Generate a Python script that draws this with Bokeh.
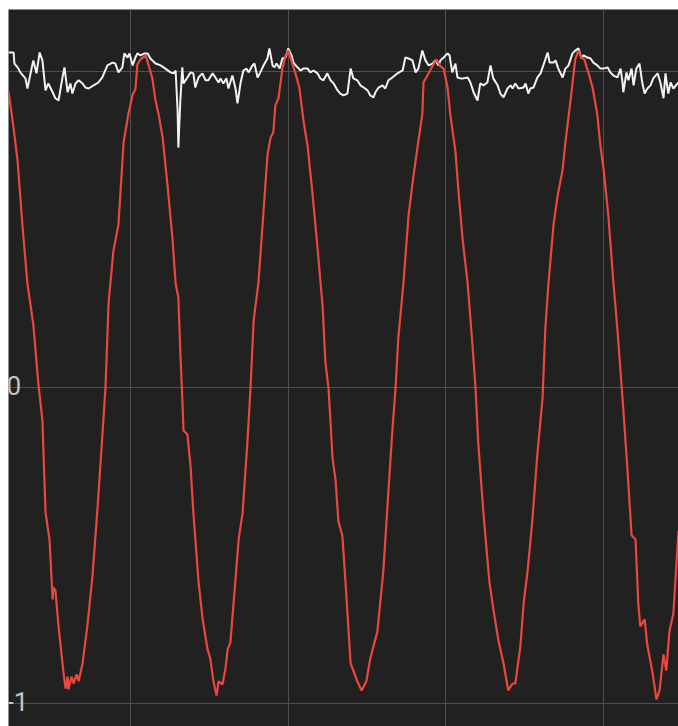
from bokeh.plotting import figure
from bokeh.models import Range1d, FixedTicker
from bokeh.layouts import column
from bokeh.core.properties import value
from bokeh.embed import file_html
from bokeh.resources import INLINE

# sample index (x) and values
red_x = [
    0.0, 1.3, 2.3, 3.6, 4.8, 6.3, 7.4, 7.6, 8.6, 9.4,
    10.4, 11.2, 11.4, 11.9, 12.7, 14.0, 14.5, 15.0, 15.2, 16.0,
    16.5, 17.3, 17.8, 18.8, 20.0, 21.3, 22.6, 23.3, 24.6, 25.4,
    26.6, 27.9, 29.2, 30.4, 31.5, 32.2, 32.7, 33.5, 34.8, 35.5,
    36.5, 37.3, 38.1, 39.1, 40.3, 41.6, 42.4, 43.1, 43.6, 44.1,
    44.4, 45.4, 46.2, 46.9, 48.2, 49.2, 50.5, 51.2, 52.0, 52.8,
    53.3, 54.3, 55.1, 55.6, 56.3, 57.1, 58.4, 59.4, 60.6, 61.4,
    62.2, 63.4, 64.4, 65.7, 66.5, 67.2, 67.7, 68.5, 69.5, 70.3,
    71.0, 72.1, 72.8, 73.8, 74.8, 75.9, 77.1, 78.4, 79.7, 80.4,
    81.2, 81.7, 82.2, 83.0, 83.7, 84.7, 85.5, 86.8, 87.5, 88.5,
    89.6, 90.8, 91.8, 93.6, 95.1, 96.2, 97.4, 98.2, 98.9, 100.2,
    101.5, 102.5, 103.8, 105.0, 105.3, 106.6, 107.8, 108.6, 109.6, 110.4,
    111.4, 112.1, 113.4, 114.2, 115.2, 116.5, 117.7, 118.5, 119.2, 120.5,
    122.0, 123.0, 124.3, 125.6, 126.8, 127.9, 128.6, 129.9, 130.7, 131.7,
    132.9, 134.2, 135.5, 136.2, 137.0, 138.3, 139.3, 140.6, 141.3, 142.6,
    143.8, 144.6, 145.4, 146.1, 147.2, 148.2, 149.4, 150.2, 151.0, 152.2,
    153.5, 154.5, 155.8, 157.0, 158.1, 159.1, 159.8, 160.3, 161.4, 162.1,
    163.4, 164.4, 165.2, 166.2, 166.9, 167.7, 168.7, 170.0,
]
red_y = [
    0.937, 0.820, 0.718, 0.503, 0.329, 0.199, 0.038, 0.009, -0.104, -0.396,
    -0.481, -0.671, -0.633, -0.642, -0.756, -0.908, -0.953, -0.915, -0.956, -0.915,
    -0.937, -0.908, -0.930, -0.873, -0.756, -0.598, -0.380, -0.250, -0.003, 0.269,
    0.430, 0.516, 0.775, 0.864, 0.927, 0.943, 1.022, 1.038, 1.051, 1.022,
    0.978, 0.908, 0.864, 0.791, 0.646, 0.472, 0.329, 0.285, 0.111, -0.035,
    -0.136, -0.149, -0.250, -0.396, -0.611, -0.728, -0.829, -0.858, -0.930, -0.975,
    -0.930, -0.940, -0.886, -0.829, -0.807, -0.684, -0.481, -0.396, -0.177, -0.003,
    0.212, 0.329, 0.503, 0.734, 0.791, 0.807, 0.892, 0.915, 1.009, 1.051,
    1.066, 1.022, 0.994, 0.949, 0.848, 0.763, 0.617, 0.443, 0.256, 0.082,
    -0.003, -0.108, -0.222, -0.294, -0.424, -0.468, -0.614, -0.873, -0.896, -0.930,
    -0.959, -0.930, -0.858, -0.772, -0.582, -0.367, -0.136, -0.003, 0.155, 0.329,
    0.544, 0.646, 0.763, 0.864, 0.965, 0.994, 1.022, 1.038, 1.016, 1.009,
    0.949, 0.864, 0.747, 0.617, 0.472, 0.329, 0.139, -0.003, -0.177, -0.396,
    -0.614, -0.699, -0.801, -0.873, -0.959, -0.937, -0.937, -0.816, -0.684, -0.582,
    -0.424, -0.209, -0.035, 0.184, 0.329, 0.516, 0.604, 0.690, 0.775, 0.908,
    1.038, 1.066, 1.044, 1.038, 0.994, 0.949, 0.864, 0.763, 0.690, 0.544,
    0.329, 0.184, -0.035, -0.250, -0.468, -0.481, -0.684, -0.756, -0.734, -0.816,
    -0.902, -0.987, -0.959, -0.845, -0.896, -0.772, -0.715, -0.453,
]

white_x = [
    0.0, 1.3, 1.5, 2.3, 3.0, 4.3, 4.8, 5.6, 6.3, 7.1,
    7.9, 8.6, 9.4, 10.1, 11.2, 11.9, 12.7, 13.7, 14.2, 15.0,
    15.7, 16.2, 17.0, 17.8, 18.8, 19.5, 20.3, 21.6, 22.8, 23.8,
    25.1, 26.4, 27.1, 27.9, 28.9, 29.4, 30.2, 30.7, 31.5, 32.2,
    32.7, 33.5, 34.5, 35.3, 36.0, 37.3, 38.6, 39.8, 41.1, 41.9,
    42.4, 42.9, 43.1, 43.6, 44.1, 44.4, 45.4, 46.2, 46.9, 47.4,
    48.2, 49.2, 50.0, 50.7, 51.8, 52.5, 53.3,
    53.8, 54.5, 55.3, 55.8, 56.8, 57.6, 58.1, 58.9, 59.6, 60.4,
    60.9, 61.9, 62.4, 63.2, 63.9, 64.7, 65.7, 66.2, 67.0, 67.5,
    68.0, 68.8, 69.5, 70.3, 71.0, 71.8, 72.3, 73.3, 74.1, 74.8,
    75.9, 76.6, 77.4, 78.4, 79.1, 79.9, 80.9, 81.7, 82.5, 83.5,
    84.2, 85.0, 86.0, 86.8, 87.5, 88.5, 89.3, 90.1, 91.1, 91.8,
    92.6, 93.1, 93.9, 94.9, 95.6, 96.4, 97.4, 98.7, 100.0, 100.7,
    101.5, 102.5, 103.3, 104.0, 105.0, 105.8, 106.6, 107.6, 108.3, 109.1,
    109.6, 110.4, 111.4, 111.9, 112.6, 113.4, 113.9, 114.7, 115.4, 116.5,
    117.2, 118.0, 119.0, 119.7, 120.5, 121.5, 122.3, 123.0, 124.1, 124.8,
    125.6, 126.6, 127.4, 127.9, 128.6, 129.4, 130.7, 131.2, 131.9, 132.4,
    133.2, 134.2, 135.0, 135.7, 136.8, 137.3, 138.3, 138.8, 139.5, 140.6,
    141.3, 142.1, 143.1, 143.8, 144.6, 145.4, 145.9, 146.9, 147.7, 148.4,
    149.4, 150.2, 151.0, 152.0, 152.7, 153.5, 154.5, 155.3, 155.8, 156.0,
    156.8, 157.3, 158.1, 158.6, 159.3, 160.1, 160.8, 161.4, 162.1, 162.9,
    163.6, 164.7, 165.4, 166.2, 166.7, 167.4, 168.0, 168.7, 170.0,
]
white_y = [
    1.060, 1.060, 1.025, 1.013, 0.997, 0.978, 0.946, 0.994, 1.035, 0.994,
    1.060, 1.035, 0.940, 0.962, 0.934, 0.915, 0.908, 0.981, 1.013, 0.934,
    0.962, 0.930, 0.962, 0.972, 0.962, 0.949, 0.946, 0.956, 0.965, 0.981,
    1.019, 1.028, 1.025, 0.997, 1.013, 1.057, 1.044, 1.057, 1.019, 1.044,
    1.057, 1.051, 1.057, 1.057, 1.041, 1.025, 1.019, 1.009, 0.997, 0.994,
    1.003, 0.877, 0.759, 0.908, 1.013, 0.962, 0.981, 0.997, 0.994, 0.949,
    0.981, 0.994, 0.972, 0.972, 0.994, 0.981, 0.965,
    0.978, 0.962, 0.978, 0.946, 0.987, 0.946, 0.899, 0.965, 1.003, 1.009,
    0.997, 1.019, 1.025, 0.981, 0.997, 1.019, 1.041, 1.073, 1.019, 1.013,
    1.025, 1.009, 1.041, 1.044, 1.073, 1.051, 1.028, 1.013, 1.003, 1.009,
    1.009, 0.997, 1.003, 0.994, 0.978, 0.972, 0.994, 0.972, 0.962, 0.940,
    0.930, 0.924, 0.930, 1.009, 0.978, 0.972, 0.956, 0.949, 0.940, 0.924,
    0.918, 0.934, 0.949, 0.956, 0.946, 0.972, 0.981, 0.994, 1.003, 1.044,
    1.041, 1.035, 0.997, 1.009, 1.066, 1.035, 1.019, 1.025, 1.035, 1.019,
    1.035, 1.044, 1.057, 1.051, 0.997, 1.025, 0.981, 0.978, 0.978, 0.981,
    0.965, 0.934, 0.908, 0.962, 0.956, 0.965, 1.019, 0.978, 0.956, 0.930,
    0.918, 0.946, 0.956, 0.946, 0.962, 0.946, 0.949, 0.962, 0.930, 0.946,
    0.949, 0.981, 0.994, 1.019, 1.060, 1.028, 1.028, 1.035, 1.009, 0.981,
    1.009, 1.019, 1.057, 1.066, 1.073, 1.041, 1.051, 1.044, 1.041, 1.028,
    1.019, 1.009, 1.009, 1.013, 0.997, 0.987, 0.981, 1.009, 0.965, 0.934,
    0.997, 0.972, 1.009, 0.956, 1.009, 1.025, 0.965, 0.930, 0.946, 0.956,
    0.978, 0.994, 0.965, 0.915, 0.994, 0.930, 0.965, 0.946, 0.965,
]

grid_x = [31, 71, 111, 151]
grid_y = [-1, 0, 1]
label_y = [0, -1]
label_text = ["0", "-1"]
# grid of the (cut-off) chart above
top_grid_x = [43.9, 109.6]

BG = "#212121"
GRID = "#4f4f4f"

# thin strip: bottom edge of the previous chart on the page
top = figure(width=678, height=6, output_backend="svg", toolbar_location=None,
             x_range=Range1d(0, 170), y_range=Range1d(0, 1),
             x_axis_location=None, y_axis_location=None,
             min_border=0, min_border_left=8, background_fill_color=BG,
             border_fill_color="white", outline_line_color=None)
top.xgrid.ticker = FixedTicker(ticks=top_grid_x)
top.ygrid.visible = False
top.xgrid.grid_line_color = "#555555"

p = figure(width=678, height=717, output_backend="svg", toolbar_location=None,
           x_range=Range1d(0, 170), y_range=Range1d(-1.073, 1.196),
           x_axis_location=None, y_axis_location=None,
           min_border=0, min_border_left=8, background_fill_color=BG,
           border_fill_color="white", outline_line_color=None)

p.xgrid.ticker = FixedTicker(ticks=grid_x)
p.ygrid.ticker = FixedTicker(ticks=grid_y)
p.grid.grid_line_color = GRID
p.grid.grid_line_width = 1

p.line(white_x, white_y, line_color="#f2f2f2", line_width=2)
p.line(red_x, red_y, line_color="#e8483e", line_width=2.2)

p.text(x=[-0.5] * len(label_y), y=label_y, text=label_text,
       text_font=value("Roboto"), text_font_size="26px",
       text_color="#c4c4c4", text_align="left",
       text_baseline="alphabetic", y_offset=-2)

layout = column(top, p, spacing=3)

open("out.html", "w").write(file_html(layout, INLINE))
